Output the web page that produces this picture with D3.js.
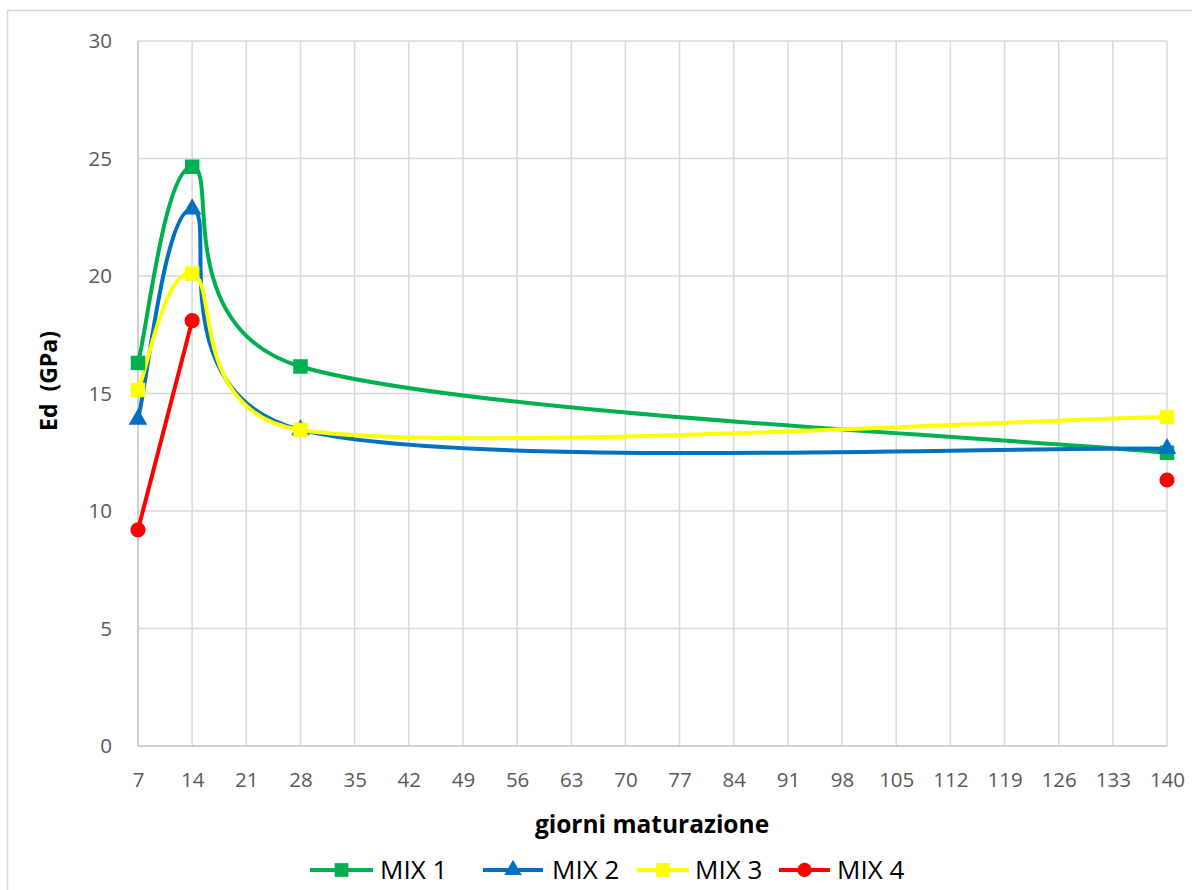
<!DOCTYPE html>
<html>
<head>
<meta charset="utf-8">
<script src="https://cdn.jsdelivr.net/npm/d3@7"></script>
<style>
  html, body { margin: 0; padding: 0; background: #fff; }
  svg { display: block; }
  text { font-family: "Open Sans", "Noto Sans", sans-serif; }
</style>
</head>
<body>
<svg id="chart" width="1192" height="890"></svg>
<script>
// Curing days (x) and dynamic modulus Ed in GPa for each mix
const days = [7, 14, 28, 140];
const mix1 = [16.3, 24.65, 16.15, 12.48];
const mix2 = [13.9, 22.85, 13.45, 12.65];
const mix3 = [15.15, 20.1, 13.45, 14.0];
const mix4 = [9.2, 18.1, null, 11.32];

const seriesNames = ["MIX 1", "MIX 2", "MIX 3", "MIX 4"];
const seriesColors = ["#00B050", "#0070C0", "#FFFF00", "#FF0000"];
const seriesSymbols = [d3.symbolSquare, d3.symbolTriangle, d3.symbolSquare, d3.symbolCircle];

const xTicks = d3.range(7, 141, 7);
const yTicks = [0, 5, 10, 15, 20, 25, 30];

const series = [mix1, mix2, mix3, mix4].map((vals, i) => ({
  name: seriesNames[i],
  color: seriesColors[i],
  symbol: seriesSymbols[i],
  points: days.map((d, j) => ({ x: d, y: vals[j] }))
}));

// Smoothed line: cubic Bezier through every point, tangent parallel to the
// chord of the neighbours (1/6 tension), handle length capped relative to the segment.
function curveSmooth(context) {
  const CAP = 0.6;
  return {
    areaStart() {}, areaEnd() {},
    lineStart() { this._pts = []; },
    point(x, y) { this._pts.push([+x, +y]); },
    lineEnd() {
      const p = this._pts, n = p.length;
      if (!n) return;
      context.moveTo(p[0][0], p[0][1]);
      if (n === 1) return;
      const dist = (a, b) => Math.hypot(b[0] - a[0], b[1] - a[1]);
      for (let i = 0; i < n - 1; i++) {
        const p0 = p[Math.max(i - 1, 0)], p1 = p[i], p2 = p[i + 1], p3 = p[Math.min(i + 2, n - 1)];
        const d12 = dist(p1, p2);
        const d02 = dist(p0, p2), d13 = dist(p1, p3);
        const f1 = d02 > 0 ? Math.min(1 / 6, CAP * d12 / d02) : 0;
        const f2 = d13 > 0 ? Math.min(1 / 6, CAP * d12 / d13) : 0;
        context.bezierCurveTo(
          p1[0] + (p2[0] - p0[0]) * f1, p1[1] + (p2[1] - p0[1]) * f1,
          p2[0] - (p3[0] - p1[0]) * f2, p2[1] - (p3[1] - p1[1]) * f2,
          p2[0], p2[1]);
      }
    }
  };
}

const svg = d3.select("#chart");
const margin = { left: 138, top: 41, right: 25, bottom: 144 };
const W = 1192, H = 890;
const innerW = W - margin.left - margin.right;
const innerH = H - margin.top - margin.bottom;

// chart frame
svg.append("rect")
  .attr("x", 7.5).attr("y", 10.5)
  .attr("width", 1200).attr("height", 900)
  .attr("fill", "none").attr("stroke", "#d9d9d9").attr("stroke-width", 1.5);

const x = d3.scaleLinear().domain([7, 140]).range([0, innerW]);
const y = d3.scaleLinear().domain([0, 30]).range([innerH, 0]);

const g = svg.append("g").attr("transform", `translate(${margin.left},${margin.top})`);

// gridlines
g.append("g").selectAll("line").data(xTicks).join("line")
  .attr("x1", d => x(d)).attr("x2", d => x(d))
  .attr("y1", 0).attr("y2", innerH)
  .attr("stroke", "#d9d9d9").attr("stroke-width", 1.5);
g.append("g").selectAll("line").data(yTicks).join("line")
  .attr("x1", 0).attr("x2", innerW)
  .attr("y1", d => y(d)).attr("y2", d => y(d))
  .attr("stroke", "#d9d9d9").attr("stroke-width", 1.5);

// axis lines
g.append("line").attr("x1", 0).attr("x2", 0).attr("y1", 0).attr("y2", innerH)
  .attr("stroke", "#c8c8c8").attr("stroke-width", 1.5);
g.append("line").attr("x1", 0).attr("x2", innerW).attr("y1", innerH).attr("y2", innerH)
  .attr("stroke", "#c8c8c8").attr("stroke-width", 1.5);

// axes (labels only)
const xAxis = d3.axisBottom(x).tickValues(xTicks).tickSize(0).tickPadding(26);
const gx = g.append("g").attr("transform", `translate(0,${innerH})`).call(xAxis);
gx.select(".domain").remove();
gx.selectAll("text").attr("fill", "#595959").style("font-size", "20.5px")
  .style("font-family", "'Open Sans', sans-serif");

const yAxis = d3.axisLeft(y).tickValues(yTicks).tickSize(0).tickPadding(26);
const gy = g.append("g").call(yAxis);
gy.select(".domain").remove();
gy.selectAll("text").attr("fill", "#595959").style("font-size", "20.5px")
  .style("font-family", "'Open Sans', sans-serif");

// axis titles
svg.append("text")
  .attr("x", 652).attr("y", 833)
  .attr("text-anchor", "middle")
  .style("font-size", "24.5px").style("font-weight", "bold")
  .text("giorni maturazione");

svg.append("text")
  .attr("transform", "translate(57,381) rotate(-90)")
  .attr("text-anchor", "middle")
  .style("font-size", "23px").style("font-weight", "bold")
  .style("white-space", "pre")
  .text("Ed  (GPa)");

// smoothed series lines
const line = d3.line()
  .defined(d => d.y != null)
  .x(d => x(d.x)).y(d => y(d.y))
  .curve(curveSmooth);

const sg = g.append("g");
series.forEach(s => {
  sg.append("path")
    .datum(s.points)
    .attr("d", line)
    .attr("fill", "none")
    .attr("stroke", s.color)
    .attr("stroke-width", 4)
    .attr("stroke-linejoin", "round");
});

// markers
const markerSize = sym => sym === d3.symbolCircle ? 180 : (sym === d3.symbolTriangle ? 150 : 210);
series.forEach(s => {
  sg.append("g").selectAll("path")
    .data(s.points.filter(d => d.y != null))
    .join("path")
    .attr("transform", d => `translate(${x(d.x)},${y(d.y)})`)
    .attr("d", d3.symbol().type(s.symbol).size(markerSize(s.symbol)))
    .attr("fill", s.color);
});

// legend
const legendLineX = [310, 483, 637, 779];
const legendLineLen = [63, 60, 52, 51];
const legendTextX = [380, 552, 695, 837];
const legend = svg.append("g").attr("transform", "translate(0,870)");
series.forEach((s, i) => {
  const lg = legend.append("g");
  lg.append("line")
    .attr("x1", legendLineX[i]).attr("x2", legendLineX[i] + legendLineLen[i])
    .attr("y1", 0).attr("y2", 0)
    .attr("stroke", s.color).attr("stroke-width", 4);
  lg.append("path")
    .attr("transform", `translate(${legendLineX[i] + legendLineLen[i] / 2},0)`)
    .attr("d", d3.symbol().type(s.symbol).size(markerSize(s.symbol) * 0.9))
    .attr("fill", s.color);
  lg.append("text")
    .attr("x", legendTextX[i]).attr("y", 9)
    .style("font-size", "26px")
    .attr("fill", "#000")
    .text(s.name);
});
</script>
</body>
</html>
